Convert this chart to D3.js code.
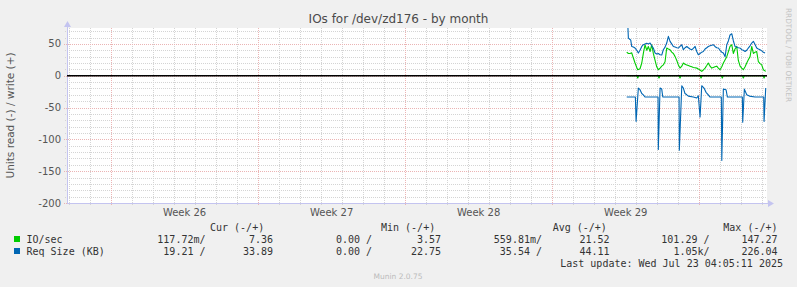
<!DOCTYPE html>
<html>
<head>
<meta charset="utf-8">
<script src="https://cdn.jsdelivr.net/npm/d3@7"></script>
<style>
    html, body { margin: 0; padding: 0; background: #F0F0F0; }
    svg text { white-space: pre; }
</style>
</head>
<body>
<svg id="chart" width="797" height="287"></svg>
<script>
// Time window shown (UTC)
const X_DOMAIN = [Date.UTC(2025, 5, 19, 21, 44), Date.UTC(2025, 6, 23, 5, 21)];
const Y_DOMAIN = [-200, 75];
const Y_TICKS = [50, 0, -50, -100, -150, -200];

// Series: [hours since Jul 16 00:00 UTC, value]
const DATA_ORIGIN = Date.UTC(2025, 6, 16);

const ioWrite = [
    [13.1, 37.2], [15.0, 35], [16.9, 35], [18.8, 36], [20.7, 27.8], [22.6, 20], [24.6, 13], [25.7, 9.4],
    [28.3, 11], [30.3, 20], [32.1, 35], [34.0, 48.7], [36.0, 40], [37.8, 46], [39.8, 38], [41.7, 48.7],
    [43.5, 35], [45.5, 24], [47.4, 14], [49.2, 9.4], [51.2, 12], [53.1, 15], [54.9, 17], [56.9, 22],
    [58.8, 43.5], [60.7, 42], [62.6, 40.8], [64.5, 37], [66.4, 35], [68.4, 30], [70.3, 24], [72.1, 17],
    [74.0, 12], [76.0, 15], [77.8, 20], [79.7, 18], [81.7, 17], [83.5, 16], [85.4, 15], [87.4, 14],
    [89.2, 13], [91.2, 12.5], [93.1, 12], [94.9, 10.5], [96.9, 9], [98.8, 6.8], [100.6, 9], [102.6, 12],
    [104.5, 16], [106.3, 20], [108.3, 15], [110.2, 12], [112.0, 13], [113.9, 14], [115.9, 15], [117.8, 12],
    [119.7, 9.4], [121.7, 14], [123.5, 20], [125.5, 25], [127.4, 30], [129.3, 38], [131.1, 46], [133.1, 48.7],
    [134.9, 35], [136.8, 42], [138.8, 46], [140.6, 24], [142.6, 15], [144.5, 12], [146.3, 9.4], [148.3, 14],
    [150.2, 20], [152.0, 25], [154.0, 30], [155.9, 46], [157.8, 35], [159.7, 37], [161.6, 38], [163.5, 22],
    [165.4, 19], [167.3, 17], [169.2, 9.4], [171.9, 6.8]
];

const ioRead = [
    [13.1, 0], [24.6, 0], [25.7, -3.6], [26.8, 0], [48.9, 0], [50.0, -3.6], [51.1, 0],
    [72.9, 0], [74.0, -3.6], [75.1, 0], [96.9, 0], [98.0, -3.6], [99.1, 0],
    [121.2, 0], [122.3, -3.6], [123.4, 0], [145.2, 0], [146.3, -3.6], [147.4, 0],
    [168.9, 0], [170.0, -3.6], [171.1, 0]
];

const sizeWrite = [
    [13.1, 120], [15.0, 59], [16.9, 57], [17.7, 56], [18.8, 46], [20.7, 45], [22.6, 43.5], [24.6, 40],
    [26.4, 35.6], [28.3, 40], [30.3, 46], [32.1, 48.7], [34.0, 50], [36.0, 51], [37.8, 50], [39.8, 51.3],
    [41.7, 47], [43.5, 43.5], [45.5, 35.6], [47.4, 34], [49.2, 35], [51.2, 33], [53.1, 32.5], [54.9, 40.8],
    [56.9, 45], [58.8, 51.3], [60.7, 61.8], [62.6, 54], [64.5, 50], [66.4, 46], [68.4, 45], [70.3, 44],
    [72.1, 43.5], [74.0, 46], [76.0, 48.7], [77.8, 40.8], [79.7, 44], [81.7, 46], [83.5, 44], [85.4, 42],
    [87.4, 40.8], [89.2, 43], [91.2, 46], [93.1, 38], [94.9, 33], [96.9, 35], [98.8, 37], [100.6, 38],
    [102.6, 42], [104.5, 44], [106.3, 46], [108.3, 47], [110.2, 48], [112.0, 48.7], [113.9, 46], [115.9, 44],
    [117.8, 43.5], [119.7, 40], [121.7, 37], [123.5, 35.6], [125.5, 30], [127.4, 48.7], [129.3, 55], [131.1, 64],
    [133.1, 66], [134.9, 55], [136.8, 46], [138.8, 45], [140.6, 44], [142.6, 43.5], [144.5, 41], [146.3, 40],
    [148.3, 38], [150.2, 40], [152.0, 43.5], [154.0, 47], [155.9, 51.3], [157.8, 54], [159.7, 49], [161.6, 43.5],
    [163.5, 42], [165.4, 40.8], [167.3, 39], [169.2, 37], [171.1, 35.6]
];

const sizeRead = [
    [13.1, -33.5], [23.0, -33.5], [23.8, -71.7], [26.4, -19.4], [28.3, -22], [30.3, -28], [32.1, -30], [34.0, -33.5],
    [48.9, -33.5], [49.2, -116], [51.2, -19.4], [53.1, -21], [54.3, -33.5],
    [72.9, -33.5], [73.2, -117], [76.0, -15.7], [77.8, -19.4], [79.7, -28], [81.7, -30], [83.5, -32], [89.2, -33.5],
    [93.1, -35], [94.9, -31.5], [96.9, -65], [98.8, -15.7], [101.4, -19.4], [103.7, -26], [106.3, -30], [108.3, -33.5],
    [121.2, -33.5], [121.7, -133], [123.5, -21], [126.6, -22], [128.1, -33.5],
    [145.2, -33.5], [145.6, -73], [147.5, -21], [150.2, -30], [153.2, -32], [159.7, -33.5],
    [169.6, -33.5], [170.0, -71.7], [171.9, -19.4]
];

// Legend
const legendNames = ['IO/sec', 'Req Size (KB)'];
const legendColors = ['#00CC00', '#0066B3'];
const legendHeaders = ['Cur (-/+)', 'Min (-/+)', 'Avg (-/+)', 'Max (-/+)'];
const legendRead = [
    ['117.72m/', '0.00 /', '559.81m/', '101.29 /'],
    ['19.21 /', '0.00 /', '35.54 /', '1.05k/']
];
const legendWrite = [
    ['7.36', '3.57', '21.52', '147.27'],
    ['33.89', '22.75', '44.11', '226.04']
];
const TITLE = 'IOs for /dev/zd176 - by month';
const Y_LABEL = 'Units read (-) / write (+)';
const LAST_UPDATE = 'Last update: Wed Jul 23 04:05:11 2025';

// Layout
const PLOT = { left: 67, right: 767, top: 28, bottom: 203 };
const COL_HEADER_X = [210, 381, 552.7, 723.3];
const COL_READ_X = [205.5, 372, 542, 709.5];
const COL_WRITE_X = [273, 441, 609.5, 777.5];
const FONT = '"DejaVu Sans", sans-serif';
const MONO = '"DejaVu Sans Mono", monospace';
const GRID_MINOR = '#d4d4d4';
const GRID_MAJOR = '#ebb4b4';

const svg = d3.select('#chart');

const x = d3.scaleUtc().domain(X_DOMAIN).range([PLOT.left, PLOT.right]);
const y = d3.scaleLinear().domain(Y_DOMAIN).range([PLOT.bottom, PLOT.top]);
const toDate = (h) => new Date(DATA_ORIGIN + h * 3600e3);
const px = (v) => Math.round(v) + 0.5;

svg.append('rect').attr('width', 797).attr('height', 287).attr('fill', '#F0F0F0');
svg.append('rect')
    .attr('x', PLOT.left).attr('y', PLOT.top)
    .attr('width', PLOT.right - PLOT.left).attr('height', PLOT.bottom - PLOT.top)
    .attr('fill', 'white');

// Grid
const grid = svg.append('g').attr('shape-rendering', 'crispEdges').attr('stroke-dasharray', '1,1');
const days = d3.utcDay.range(X_DOMAIN[0], X_DOMAIN[1]);
const weeks = d3.utcSunday.range(X_DOMAIN[0], X_DOMAIN[1]);
const minorY = d3.range(-200, 76, 10).filter((v) => v % 50 !== 0);

grid.selectAll('line.vmin').data(days.filter((d) => d.getUTCDay() !== 0)).enter().append('line')
    .attr('x1', (d) => px(x(d))).attr('x2', (d) => px(x(d)))
    .attr('y1', PLOT.top).attr('y2', PLOT.bottom + 2)
    .attr('stroke', GRID_MINOR);
grid.selectAll('line.hmin').data(minorY).enter().append('line')
    .attr('x1', PLOT.left - 2).attr('x2', PLOT.right)
    .attr('y1', (v) => px(y(v))).attr('y2', (v) => px(y(v)))
    .attr('stroke', GRID_MINOR);
grid.selectAll('line.vmaj').data(weeks).enter().append('line')
    .attr('x1', (d) => px(x(d))).attr('x2', (d) => px(x(d)))
    .attr('y1', PLOT.top).attr('y2', PLOT.bottom + 3)
    .attr('stroke', GRID_MAJOR);
grid.selectAll('line.hmaj').data(Y_TICKS).enter().append('line')
    .attr('x1', PLOT.left - 3).attr('x2', PLOT.right)
    .attr('y1', (v) => px(y(v))).attr('y2', (v) => px(y(v)))
    .attr('stroke', GRID_MAJOR);

// Axes
const axisColor = '#c4c4f0';
svg.append('line')
    .attr('x1', PLOT.left + 0.5).attr('x2', PLOT.left + 0.5)
    .attr('y1', PLOT.bottom).attr('y2', PLOT.top - 4)
    .attr('stroke', axisColor);
svg.append('line')
    .attr('x1', PLOT.left).attr('x2', PLOT.right + 4)
    .attr('y1', PLOT.bottom + 0.5).attr('y2', PLOT.bottom + 0.5)
    .attr('stroke', axisColor);
svg.append('path')
    .attr('d', `M${PLOT.left - 3},${PLOT.top - 1}L${PLOT.left + 0.5},${PLOT.top - 7}L${PLOT.left + 4},${PLOT.top - 1}Z`)
    .attr('fill', axisColor);
svg.append('path')
    .attr('d', `M${PLOT.right + 1},${PLOT.bottom - 3}L${PLOT.right + 7},${PLOT.bottom + 0.5}L${PLOT.right + 1},${PLOT.bottom + 4}Z`)
    .attr('fill', axisColor);

// Tick labels
svg.append('g').selectAll('text').data(Y_TICKS).enter().append('text')
    .attr('x', PLOT.left - 6).attr('y', (v) => y(v) + 3.5)
    .attr('text-anchor', 'end')
    .attr('font-family', FONT).attr('font-size', 10).attr('fill', '#555')
    .text((v) => v);

const weekLabels = weeks.concat([d3.utcSunday.floor(X_DOMAIN[0])])
    .map((d) => d3.utcHour.offset(d, 84))
    .filter((d) => d > X_DOMAIN[0] && d < X_DOMAIN[1]);
svg.append('g').selectAll('text').data(weekLabels).enter().append('text')
    .attr('x', (d) => x(d)).attr('y', 216)
    .attr('text-anchor', 'middle')
    .attr('font-family', FONT).attr('font-size', 10).attr('fill', '#555')
    .text(d3.utcFormat('Week %V'));

// Series
svg.append('clipPath').attr('id', 'plotclip').append('rect')
    .attr('x', PLOT.left).attr('y', PLOT.top)
    .attr('width', PLOT.right - PLOT.left).attr('height', PLOT.bottom - PLOT.top);

const line = d3.line().x((p) => x(toDate(p[0]))).y((p) => y(p[1]));
const series = svg.append('g').attr('clip-path', 'url(#plotclip)');
[[ioRead, legendColors[0]], [ioWrite, legendColors[0]], [sizeRead, legendColors[1]], [sizeWrite, legendColors[1]]]
    .forEach(([data, color]) => {
        series.append('path')
            .attr('d', line(data))
            .attr('fill', 'none')
            .attr('stroke', color)
            .attr('stroke-width', 1.1)
            .attr('stroke-linejoin', 'round');
    });

// Zero rule
svg.append('line')
    .attr('x1', PLOT.left).attr('x2', PLOT.right)
    .attr('y1', y(0)).attr('y2', y(0))
    .attr('stroke', '#000').attr('stroke-width', 1.4);

// Title and labels
svg.append('text')
    .attr('x', 398.5).attr('y', 23)
    .attr('text-anchor', 'middle')
    .attr('font-family', FONT).attr('font-size', 12).attr('fill', '#4a4a4a')
    .text(TITLE);
svg.append('text')
    .attr('transform', `translate(14,${(PLOT.top + PLOT.bottom) / 2}) rotate(-90)`)
    .attr('text-anchor', 'middle')
    .attr('font-family', FONT).attr('font-size', 10.5).attr('fill', '#555')
    .text(Y_LABEL);
svg.append('text')
    .attr('transform', 'translate(786,8) rotate(90)')
    .attr('font-family', FONT).attr('font-size', 7.5).attr('fill', '#c4c4c4')
    .attr('textLength', 94).attr('lengthAdjust', 'spacingAndGlyphs')
    .text('RRDTOOL / TOBI OETIKER');

// Legend
const legend = svg.append('g')
    .attr('font-family', MONO).attr('font-size', 10).attr('fill', '#333');
legend.selectAll('text.hdr').data(legendHeaders).enter().append('text')
    .attr('x', (d, i) => COL_HEADER_X[i]).attr('y', 231)
    .text((d) => d);
legendNames.forEach((name, r) => {
    const ty = 243 + r * 12;
    legend.append('rect')
        .attr('x', 14).attr('y', ty - 7).attr('width', 6).attr('height', 6)
        .attr('fill', legendColors[r]);
    legend.append('text').attr('x', 26.5).attr('y', ty).text(name);
    legend.selectAll(null).data(legendRead[r]).enter().append('text')
        .attr('x', (d, i) => COL_READ_X[i]).attr('y', ty)
        .attr('text-anchor', 'end').text((d) => d);
    legend.selectAll(null).data(legendWrite[r]).enter().append('text')
        .attr('x', (d, i) => COL_WRITE_X[i]).attr('y', ty)
        .attr('text-anchor', 'end').text((d) => d);
});
legend.append('text')
    .attr('x', 783).attr('y', 267)
    .attr('text-anchor', 'end')
    .text(LAST_UPDATE);

svg.append('text')
    .attr('x', 398).attr('y', 279)
    .attr('text-anchor', 'middle')
    .attr('font-family', FONT).attr('font-size', 7.5).attr('fill', '#bbb')
    .text('Munin 2.0.75');
</script>
</body>
</html>
